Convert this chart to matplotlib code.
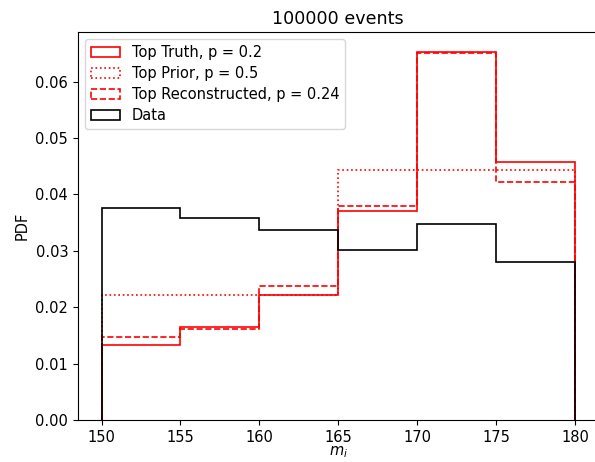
import numpy as np
import matplotlib
matplotlib.use("Agg")
import matplotlib.pyplot as plt

# bin edges of the mass histogram
edges = [150, 155, 160, 165, 170, 175, 180]

# normalised bin contents
truth = [0.0133, 0.0165, 0.0221, 0.0370, 0.0653, 0.0457]
prior = [0.0222, 0.0222, 0.0222, 0.0444, 0.0444, 0.0444]
reco = [0.0147, 0.0162, 0.0238, 0.0380, 0.0651, 0.0422]
data = [0.0375, 0.0358, 0.0337, 0.0302, 0.0348, 0.0280]

plt.rcParams["font.size"] = 10.5

fig = plt.figure(figsize=(5.95, 4.62), dpi=100)
ax = fig.add_axes([0.131, 0.091, 0.875, 0.84])

centers = np.array(edges[:-1]) + 2.5
ax.hist(centers, bins=edges, weights=truth, histtype="step", color="red",
        linestyle="-", lw=1.2, label="Top Truth, p = 0.2")
ax.hist(centers, bins=edges, weights=prior, histtype="step", color="red",
        linestyle=":", lw=1.2, label="Top Prior, p = 0.5")
ax.hist(centers, bins=edges, weights=reco, histtype="step", color="red",
        linestyle="--", lw=1.2, label="Top Reconstructed, p = 0.24")
ax.hist(centers, bins=edges, weights=data, histtype="step", color="black",
        linestyle="-", lw=1.2, label="Data")

ax.set_xlim(148.5, 181.5)
ax.set_ylim(0, 0.0688)
ax.set_xlabel("$m_i$", labelpad=0)
ax.set_ylabel("PDF")
ax.set_title("100000 events", fontsize=12.6)
ax.legend(loc="upper left", labelspacing=0.42)

fig.savefig("out.png", dpi=100)
